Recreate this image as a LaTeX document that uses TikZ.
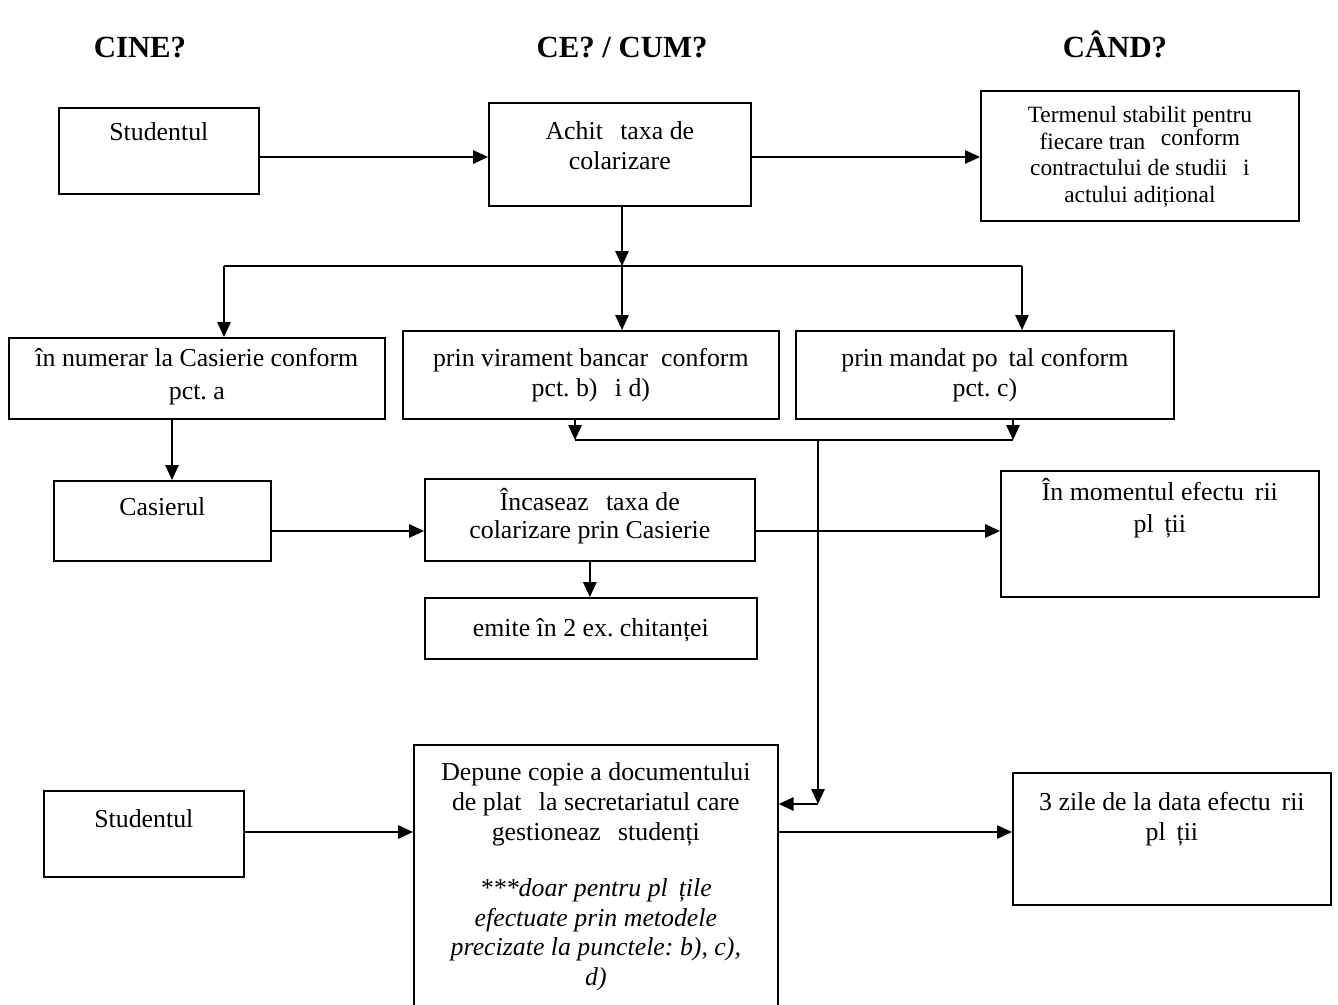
\documentclass[tikz,border=0pt]{standalone}
\usepackage{fontspec}
\setmainfont{Liberation Serif}
\usetikzlibrary{arrows.meta}
\newcommand{\lips}{\hspace{0.42em}}
\frenchspacing

\tikzset{
  box/.style={draw, line width=1pt, inner sep=0pt, anchor=north west},
  lab/.style={anchor=north, align=center, inner sep=0pt, font=\fontsize{14.7}{17}\selectfont},
  head/.style={anchor=base, font=\fontsize{17.5}{20}\selectfont\bfseries},
  arr/.style={line width=0.8pt, -{Triangle[length=0.3cm,width=0.27cm]}},
  conn/.style={line width=0.8pt},
}

\begin{document}
\begin{tikzpicture}[x=0.02cm,y=-0.02cm]
\useasboundingbox (0,0) rectangle (1338,1004);
\clip (0,0) rectangle (1338,1004);

% column titles
\node[head] (cine) at (140,57) {CINE?};
\node[head] (cecum) at (622,57) {CE? / CUM?};
\node[head] (cand) at (1115,57) {CÂND?};

% first row
\node[box, minimum width=4cm, minimum height=1.72cm,
  label={[lab,yshift=-0.3cm]north:{Studentul}}] (stud1) at (58,107) {};
\node[box, minimum width=5.24cm, minimum height=2.06cm,
  label={[lab,yshift=-0.38cm]north:{Achit\lips\ taxa de\\colarizare}}] (achit) at (488,102) {};
\node[box, minimum width=6.36cm, minimum height=2.6cm,
  label={[lab,yshift=-0.32cm,font=\fontsize{13.3}{15.2}\selectfont]north:{Termenul stabilit pentru\\fiecare tran\lips\ \raisebox{2pt}{conform}\\contractului de studii \lips i\\actului adițional}}] (termen) at (980,90) {};

% payment methods
\node[box, minimum width=7.52cm, minimum height=1.62cm,
  label={[lab,yshift=-0.22cm,font=\fontsize{14.7}{19}\selectfont]north:{în numerar la Casierie conform\\pct. a}}] (numerar) at (8,337) {};
\node[box, minimum width=7.52cm, minimum height=1.76cm,
  label={[lab,yshift=-0.36cm]north:{prin virament bancar\ \ conform\\pct. b) \lips i d)}}] (virament) at (402,330) {};
\node[box, minimum width=7.56cm, minimum height=1.76cm,
  label={[lab,yshift=-0.36cm]north:{prin mandat po\lips tal conform\\pct. c)}}] (mandat) at (795,330) {};

% cashier
\node[box, minimum width=4.34cm, minimum height=1.6cm,
  label={[lab,yshift=-0.34cm]north:{Casierul}}] (casier) at (53,480) {};
\node[box, minimum width=6.6cm, minimum height=1.64cm,
  label={[lab,yshift=-0.2cm,font=\fontsize{14.7}{16}\selectfont]north:{Încaseaz\lips\ taxa de\\colarizare prin Casierie}}] (incas) at (424,478) {};
\node[box, minimum width=6.36cm, minimum height=2.52cm,
  label={[lab,yshift=-0.16cm,font=\fontsize{14.7}{18}\selectfont]north:{În momentul efectu\lips rii\\pl\lips ții}}] (moment) at (1000,470) {};
\node[box, minimum width=6.64cm, minimum height=1.22cm,
  label={[lab,yshift=-0.42cm]north:{emite în 2 ex. chitanței}}] (emite) at (424,597) {};

% last row
\node[box, minimum width=4cm, minimum height=1.72cm,
  label={[lab,yshift=-0.38cm]north:{Studentul}}] (stud2) at (43,790) {};
\node[box, minimum width=7.28cm, minimum height=5.72cm,
  label={[lab,yshift=-0.36cm]north:{Depune copie a documentului\\de plat\lips\ la secretariatul care\\gestioneaz\lips\ studenți\\[15pt]
  \itshape ***doar pentru pl\lips țile\\\itshape efectuate prin metodele\\\itshape precizate la punctele: b), c),\\\itshape d)}}] (depune) at (413,744) {};
\node[box, minimum width=6.36cm, minimum height=2.64cm,
  label={[lab,yshift=-0.4cm]north:{3 zile de la data efectu\lips rii\\pl\lips ții}}] (zile) at (1012,772) {};

% helper points
\coordinate (r1) at (0,157);
\coordinate (r2) at (0,531);
\coordinate (r3) at (0,832);
\coordinate (bus) at (622,266);
\coordinate (busL) at (224,266);
\coordinate (busR) at (1022,266);
\coordinate (down) at (172,418);
\coordinate (joinL) at (575,440);
\coordinate (joinR) at (1013,440);
\coordinate (drop) at (818,440);
\coordinate (bend) at (818,804);

% connectors
\draw[arr] (achit.south -| bus) -- (bus);
\draw[arr] (stud1.east |- r1) -- (achit.west |- r1);
\draw[arr] (achit.east |- r1) -- (termen.west |- r1);
\draw[conn] (busL) -- (busR);
\draw[arr] (busL) -- (busL |- numerar.north);
\draw[arr] (bus) -- (bus |- virament.north);
\draw[arr] (busR) -- (busR |- mandat.north);

\draw[arr] (down) -- (down |- casier.north);
\draw[arr] (casier.east |- r2) -- (incas.west |- r2);
\draw[arr] (incas.east |- r2) -- (moment.west |- r2);
\draw[arr] (incas.south) -- (incas.south |- emite.north);

\draw[arr] (joinL |- virament.south) -- (joinL);
\draw[arr] (joinR |- mandat.south) -- (joinR);
\draw[conn] (joinL) -- (joinR);
\draw[arr] (drop) -- (bend);
\draw[arr] (bend) -- (bend -| depune.east);

\draw[arr] (stud2.east |- r3) -- (depune.west |- r3);
\draw[arr] (depune.east |- r3) -- (zile.west |- r3);
\end{tikzpicture}
\end{document}
